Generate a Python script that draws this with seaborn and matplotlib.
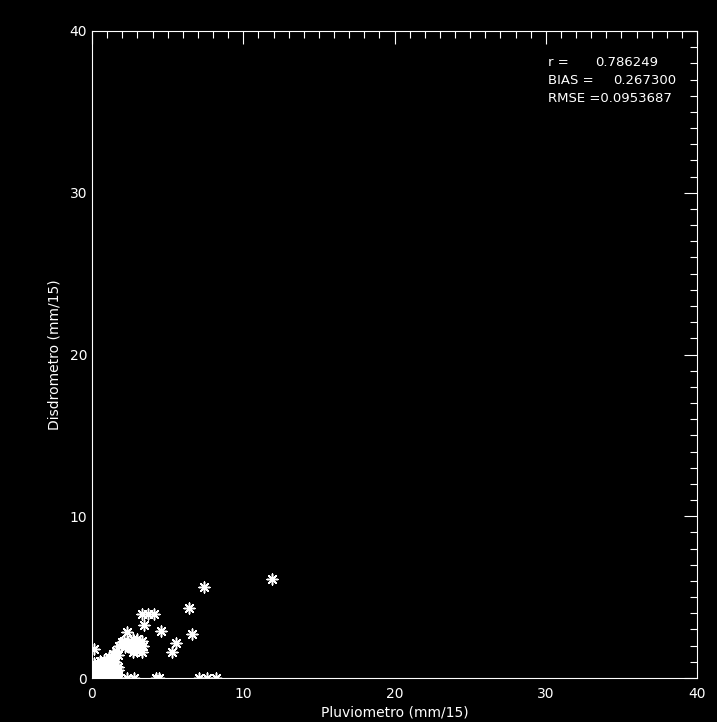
import matplotlib
matplotlib.use("Agg")
import matplotlib.pyplot as plt
from matplotlib.ticker import MultipleLocator
import seaborn as sns
import pandas as pd

# ---- data ----
blob_x = [0.0, 0.2, 0.4, 0.6, 0.8, 1.0, 1.2, 1.4, 1.6,
          0.3, 0.9, 1.5,
          0.1, 0.4, 0.7, 1.0, 1.3, 1.6,
          0.25, 0.85, 1.45, 1.75,
          0.2, 0.5, 0.8, 1.1, 1.4, 1.7,
          0.3, 0.9, 1.5,
          0.1, 0.4, 0.7, 1.0, 1.3, 1.5,
          0.5, 1.2,
          0.8, 1.1, 1.4, 1.6, 1.8, 2.0, 1.3, 1.7, 0.1]
blob_y = [0.0, 0.05, 0.0, 0.1, 0.0, 0.1, 0.0, 0.1, 0.0,
          0.15, 0.15, 0.15,
          0.3, 0.3, 0.3, 0.3, 0.3, 0.35,
          0.45, 0.45, 0.45, 0.5,
          0.6, 0.6, 0.6, 0.6, 0.6, 0.7,
          0.75, 0.75, 0.8,
          0.9, 0.9, 0.9, 0.9, 0.9, 1.0,
          1.05, 1.1,
          1.1, 1.3, 1.5, 1.7, 2.0, 2.2, 1.2, 1.4, 1.8]
cluster_x = [2.3, 2.1, 2.4, 2.7, 3.0, 3.3, 3.4, 3.1, 2.8, 2.5, 2.2, 2.7, 3.3, 3.0, 2.55, 2.95]
cluster_y = [2.85, 2.3, 2.2, 2.4, 2.4, 2.3, 2.0, 1.9, 2.0, 1.9, 1.9, 1.6, 1.6, 1.7, 2.1, 2.15]
zero_x = [1.8, 2.3, 2.8, 4.2, 4.4, 7.1, 7.6, 8.2]
zero_y = [0.0, 0.0, 0.0, 0.0, 0.0, 0.0, 0.0, 0.0]
iso_x = [11.9, 7.4, 6.4, 3.3, 3.7, 4.1, 3.45, 4.55, 6.6, 5.55, 5.3]
iso_y = [6.1, 5.6, 4.3, 3.95, 3.95, 3.95, 3.3, 2.9, 2.7, 2.15, 1.6]

pluviometro = blob_x + cluster_x + zero_x + iso_x
disdrometro = blob_y + cluster_y + zero_y + iso_y

stat_names = ["r =", "BIAS =", "RMSE ="]
stat_values = ["0.786249", "0.267300", "0.0953687"]

x_label = "Pluviometro (mm/15)"
y_label = "Disdrometro (mm/15)"
x_ticks = [0, 10, 20, 30, 40]
y_ticks = [0, 10, 20, 30, 40]

df = pd.DataFrame({"Pluviometro": pluviometro, "Disdrometro": disdrometro})

# ---- style ----
sns.set_style("dark")
plt.rcParams.update({
    "figure.facecolor": "black",
    "axes.facecolor": "black",
    "axes.edgecolor": "white",
    "axes.labelcolor": "white",
    "xtick.color": "white",
    "ytick.color": "white",
    "text.color": "white",
    "axes.grid": False,
})
plt.rcParams["font.family"] = ["DejaVu Sans"]

W, H = 717, 722
fig = plt.figure(figsize=(W / 100, H / 100), dpi=100)
ax = fig.add_axes([92 / W, 1 - 678 / H, (697 - 92) / W, (678 - 31) / H])

sns.scatterplot(data=df, x="Pluviometro", y="Disdrometro", ax=ax,
                marker=(8, 2, 0), color="white", s=60, linewidth=1.1,
                legend=False)

ax.set_xlim(0, 40)
ax.set_ylim(0, 40)
ax.set_xticks(x_ticks)
ax.set_yticks(y_ticks)
ax.xaxis.set_minor_locator(MultipleLocator(1))
ax.yaxis.set_minor_locator(MultipleLocator(1))
ax.tick_params(which="both", direction="in", top=True, right=True,
               color="white", width=0.8)
ax.tick_params(which="major", length=9.5)
ax.tick_params(which="minor", length=5)
ax.tick_params(axis="x", which="major", pad=6.5, labelsize=10)
ax.tick_params(axis="y", which="major", pad=3.5, labelsize=10)
for sp in ax.spines.values():
    sp.set_color("white")
    sp.set_linewidth(0.8)

ax.set_xlabel(x_label, fontsize=10, labelpad=3)
ax.set_ylabel(y_label, fontsize=10, labelpad=6)

# statistics text
fs = 9.5
fig.text(548 / W, 1 - 63 / H, stat_names[0], fontsize=fs, va="center", ha="left")
fig.text(595 / W, 1 - 63 / H, stat_values[0], fontsize=fs, va="center", ha="left")
fig.text(548 / W, 1 - 81 / H, stat_names[1], fontsize=fs, va="center", ha="left")
fig.text(613 / W, 1 - 81 / H, stat_values[1], fontsize=fs, va="center", ha="left")
fig.text(548 / W, 1 - 99 / H, stat_names[2] + stat_values[2], fontsize=fs,
         va="center", ha="left")

fig.savefig("out.png", dpi=100, facecolor="black")
